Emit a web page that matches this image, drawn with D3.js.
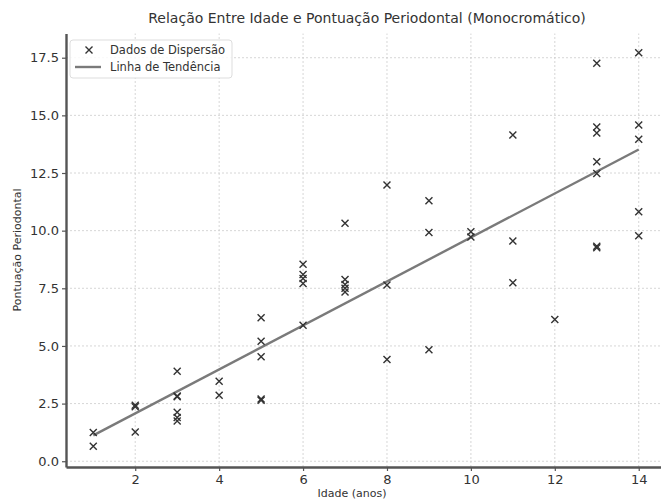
<!DOCTYPE html>
<html>
<head>
<meta charset="utf-8">
<script src="https://cdn.jsdelivr.net/npm/d3@7"></script>
<style>
  body { margin: 0; background: #fff; }
  text { font-family: "DejaVu Sans", sans-serif; fill: #333; }
</style>
</head>
<body>
<div id="chart"></div>
<script>
// idade (anos) e pontuação
var ages = [1, 1, 2, 2, 2, 3, 3, 3, 3, 3, 3, 4, 4, 5, 5, 5, 5, 5,
  6, 6, 6, 6, 6, 7, 7, 7, 7, 7, 8, 8, 8, 9, 9, 9, 10, 10,
  11, 11, 11, 12, 13, 13, 13, 13, 13, 13, 13, 14, 14, 14, 14, 14]
var scores = [1.25, 0.65, 2.43, 2.36, 1.27, 3.9, 2.83, 2.8, 2.12, 1.9, 1.75, 3.47, 2.86, 6.22, 5.2, 4.53, 2.7, 2.65,
  8.54, 8.1, 7.93, 7.71, 5.9, 10.32, 7.88, 7.66, 7.5, 7.34, 11.98, 7.64, 4.41, 11.3, 9.92, 4.84, 9.95, 9.72,
  14.15, 9.55, 7.74, 6.15, 17.26, 14.5, 14.24, 12.99, 12.48, 9.32, 9.26, 17.72, 14.58, 13.96, 10.82, 9.78]
var trendX = [1, 14]
var trendY = [1.12, 13.52]
var xTicks = [2, 4, 6, 8, 10, 12, 14]
var yTicks = [0, 2.5, 5, 7.5, 10, 12.5, 15, 17.5]

var W = 661, H = 499
var svg = d3.select('#chart').append('svg')
  .attr('width', W).attr('height', H)

var x = d3.scaleLinear().domain([0.35, 14.65]).range([66, 666])
var y = d3.scaleLinear().domain([-0.25, 18.55]).range([467, 33.5])

var g = svg.append('g')

// grade
g.selectAll('.gx').data(xTicks).enter().append('line')
  .attr('x1', d => x(d)).attr('x2', d => x(d))
  .attr('y1', y.range()[0]).attr('y2', y.range()[1])
  .attr('stroke', '#ccc').attr('stroke-width', 0.8).attr('stroke-dasharray', '2,2')
g.selectAll('.gy').data(yTicks).enter().append('line')
  .attr('x1', x.range()[0]).attr('x2', x.range()[1])
  .attr('y1', d => y(d)).attr('y2', d => y(d))
  .attr('stroke', '#ccc').attr('stroke-width', 0.8).attr('stroke-dasharray', '2,2')

// eixos
var xAxis = d3.axisBottom(x).tickValues(xTicks).tickFormat(d3.format('d')).tickSize(4).tickSizeOuter(0)
var yAxis = d3.axisLeft(y).tickValues(yTicks).tickFormat(d3.format('.1f')).tickSize(4).tickSizeOuter(0)

var gx = svg.append('g').attr('transform', 'translate(0,' + y.range()[0] + ')').call(xAxis)
var gy = svg.append('g').attr('transform', 'translate(' + x.range()[0] + ',0)').call(yAxis)
;[gx, gy].forEach(function (a) {
  a.select('.domain').attr('stroke', '#555').attr('stroke-width', 2.4)
  a.selectAll('.tick line').attr('stroke', '#555').attr('stroke-width', 1.2)
  a.selectAll('.tick text').style('font-size', '13px').attr('fill', '#333')
})
gx.selectAll('.tick text').attr('dy', '0.75em')

// linha de tendência
svg.append('path')
  .datum(trendX.map((d, i) => [d, trendY[i]]))
  .attr('d', d3.line().x(d => x(d[0])).y(d => y(d[1])))
  .attr('fill', 'none').attr('stroke', '#7a7a7a').attr('stroke-width', 2.4)

// pontos
var s = 3.5
svg.append('g').selectAll('path').data(ages).enter().append('path')
  .attr('d', (d, i) => {
    var cx = x(d), cy = y(scores[i])
    return 'M' + (cx - s) + ',' + (cy - s) + 'L' + (cx + s) + ',' + (cy + s) +
      'M' + (cx - s) + ',' + (cy + s) + 'L' + (cx + s) + ',' + (cy - s)
  })
  .attr('stroke', '#333').attr('stroke-width', 1.4).attr('fill', 'none')

// títulos
svg.append('text').attr('x', 367).attr('y', 23).attr('text-anchor', 'middle')
  .style('font-size', '14px').text('Relação Entre Idade e Pontuação Periodontal (Monocromático)')
svg.append('text').attr('x', 352).attr('y', 497).attr('text-anchor', 'middle')
  .style('font-size', '11px').text('Idade (anos)')
svg.append('text').attr('transform', 'translate(21,250) rotate(-90)').attr('text-anchor', 'middle')
  .style('font-size', '11px').text('Pontuação Periodontal')

// legenda
var lg = svg.append('g').attr('transform', 'translate(70,40)')
lg.append('rect').attr('width', 162).attr('height', 38).attr('rx', 3)
  .attr('fill', '#fff').attr('fill-opacity', 0.85).attr('stroke', '#ddd')
lg.append('path').attr('d', 'M15.5,6.5L22.5,13.5M15.5,13.5L22.5,6.5').attr('stroke', '#333').attr('stroke-width', 1.4)
lg.append('text').attr('x', 40).attr('y', 14).style('font-size', '11.5px').text('Dados de Dispersão')
lg.append('line').attr('x1', 5).attr('x2', 31).attr('y1', 27).attr('y2', 27)
  .attr('stroke', '#7a7a7a').attr('stroke-width', 2.4)
lg.append('text').attr('x', 40).attr('y', 31).style('font-size', '11.5px').text('Linha de Tendência')
</script>
</body>
</html>
